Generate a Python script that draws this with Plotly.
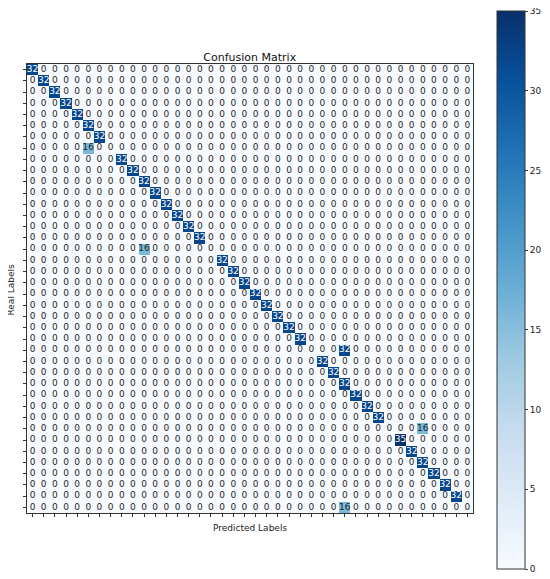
import plotly.graph_objects as go
from plotly.colors import sequential

# one non-zero cell per real label: predicted column and count
n_classes = 40
pred_col = [0, 1, 2, 3, 4, 5, 6, 5, 8, 9,
            10, 11, 12, 13, 14, 15, 10, 17, 18, 19,
            20, 21, 22, 23, 24, 28, 26, 27, 28, 29,
            30, 31, 35, 33, 34, 35, 36, 37, 38, 28]
counts = [32, 32, 32, 32, 32, 32, 32, 16, 32, 32,
          32, 32, 32, 32, 32, 32, 16, 32, 32, 32,
          32, 32, 32, 32, 32, 32, 32, 32, 32, 32,
          32, 32, 16, 35, 32, 32, 32, 32, 32, 16]
cb_ticks = [0, 5, 10, 15, 20, 25, 30, 35]

# build the matrix
z = [[0] * n_classes for _ in range(n_classes)]
for r, (c, v) in enumerate(zip(pred_col, counts)):
    z[r][c] = v

zmax = 35
xs, ys, txt, cols = [], [], [], []
for r in range(n_classes):
    for c in range(n_classes):
        v = z[r][c]
        xs.append(c)
        ys.append(r)
        txt.append(str(v))
        cols.append("white" if v > zmax / 2 else "#1f1f1f")

# page body has an 8px margin: shift everything up/left by 8px
W, H = 542, 571
L, T, R, B = 18.5, 56, 77, 66
pw, ph = W - L - R, H - T - B

fig = go.Figure()
fig.add_trace(go.Heatmap(
    z=z, x=list(range(n_classes)), y=list(range(n_classes)),
    colorscale=sequential.Blues, zmin=0, zmax=zmax,
    colorbar=dict(
        x=(489 - L) / pw, xanchor="left", xpad=0, ypad=0,
        y=(H - B - 282) / ph, yanchor="middle",
        len=558, lenmode="pixels", thickness=28,
        outlinecolor="#333", outlinewidth=1,
        tickvals=cb_ticks, ticks="outside", ticklen=3,
        ticklabeloverflow="allow",
        tickfont=dict(size=9, color="#222"),
    ),
    hoverinfo="skip",
))
fig.add_trace(go.Scatter(
    x=xs, y=ys, text=txt, mode="text",
    textfont=dict(size=9, color=cols, family="DejaVu Sans"),
    hoverinfo="skip", showlegend=False,
))

fig.update_layout(
    width=W, height=H,
    margin=dict(l=L, r=R, t=T, b=B, autoexpand=False),
    paper_bgcolor="white", plot_bgcolor="white",
    font=dict(family="DejaVu Sans", color="#222"),
    title=dict(text="Confusion Matrix", x=(L + pw / 2) / W, xanchor="center",
               y=1 - 49 / H, yanchor="middle", font=dict(size=11, color="#111")),
    showlegend=False,
    annotations=[
        dict(text="Predicted Labels", xref="paper", yref="paper",
             x=0.5, y=-15 / ph, xanchor="center", yanchor="middle",
             showarrow=False, font=dict(size=9, color="#222")),
        dict(text="Real Labels", xref="paper", yref="paper", textangle=-90,
             x=-16.5 / pw, y=(H - B - 282) / ph, xanchor="center", yanchor="middle",
             showarrow=False, font=dict(size=9, color="#222")),
    ],
)
fig.update_xaxes(
    range=[-0.5, n_classes - 0.5], tickvals=list(range(n_classes)),
    showticklabels=False, ticks="outside", ticklen=3, tickcolor="#333",
    showgrid=False, zeroline=False, showline=True, linecolor="#333",
    mirror=True, automargin=False,
)
fig.update_yaxes(
    range=[n_classes - 0.5, -0.5], tickvals=list(range(n_classes)),
    showticklabels=False, ticks="outside", ticklen=3, tickcolor="#333",
    showgrid=False, zeroline=False, showline=True, linecolor="#333",
    mirror=True, automargin=False,
)

fig.write_html("out.html")
